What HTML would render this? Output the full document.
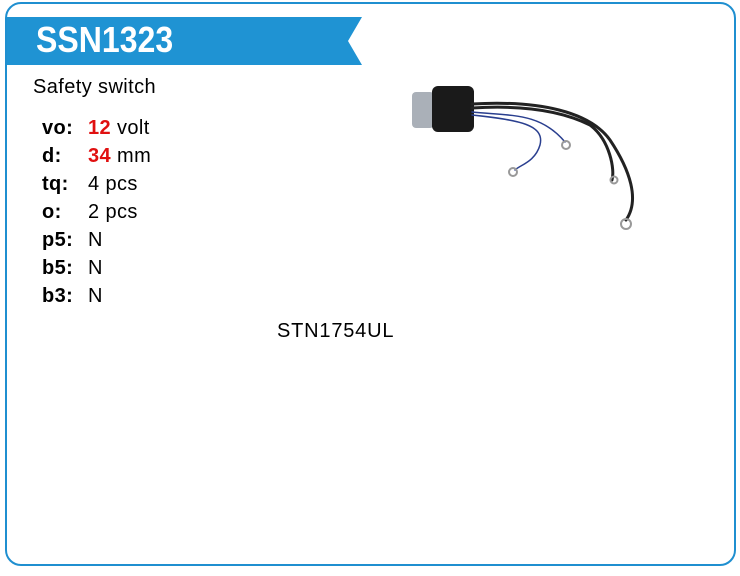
<!DOCTYPE html>
<html><head><style>
body{margin:0;width:740px;height:576px;background:#fff;font-family:"Liberation Sans",Arial,sans-serif;position:relative;overflow:hidden}
.frame{position:absolute;left:5px;top:2px;width:727px;height:560px;border:2px solid #1f8fd0;border-radius:16px}
.t{position:absolute;font-size:20px;color:#000;line-height:22px;letter-spacing:0.4px}
.b{font-weight:bold}
.r{color:#e01010;font-weight:bold}
</style></head><body>
<div class="frame"></div>
<svg style="position:absolute;left:0;top:0" width="740" height="576">
<polygon points="7,17 362,17 348,41 362,65 7,65" fill="#1f93d3"/>
<rect x="412" y="92" width="22" height="36" rx="4" fill="#aab0b8"/>
<rect x="432" y="86" width="42" height="46" rx="6" fill="#1a1a1a"/>
<g fill="none" stroke-linecap="round">
<path d="M472,108 C520,105 560,110 590,125 C610,140 615,170 612,180" stroke="#222" stroke-width="3"/>
<path d="M472,104 C540,100 590,112 610,140 C630,170 640,200 626,220" stroke="#222" stroke-width="3"/>
<path d="M472,112 C510,116 540,112 565,142" stroke="#2a3f8f" stroke-width="1.5"/>
<path d="M472,115 C520,120 545,125 540,145 C535,162 520,165 515,170" stroke="#2a3f8f" stroke-width="1.5"/>
</g>
<g fill="none" stroke="#999" stroke-width="2">
<circle cx="566" cy="145" r="4"/><circle cx="513" cy="172" r="4"/>
<circle cx="614" cy="180" r="3.5"/><circle cx="626" cy="224" r="5"/>
</g>
</svg>
<div class="t b" style="left:36px;top:20px;font-size:36px;line-height:40px;color:#fff;letter-spacing:0;transform:scaleX(0.89);transform-origin:0 0">SSN1323</div>
<div class="t" style="left:33px;top:76px">Safety switch</div>
<div class="t b" style="left:42px;top:117px">vo:</div><div class="t" style="left:88px;top:117px"><span class="r">12</span> volt</div>
<div class="t b" style="left:42px;top:145px">d:</div><div class="t" style="left:88px;top:145px"><span class="r">34</span> mm</div>
<div class="t b" style="left:42px;top:173px">tq:</div><div class="t" style="left:88px;top:173px">4 pcs</div>
<div class="t b" style="left:42px;top:201px">o:</div><div class="t" style="left:88px;top:201px">2 pcs</div>
<div class="t b" style="left:42px;top:229px">p5:</div><div class="t" style="left:88px;top:229px">N</div>
<div class="t b" style="left:42px;top:257px">b5:</div><div class="t" style="left:88px;top:257px">N</div>
<div class="t b" style="left:42px;top:285px">b3:</div><div class="t" style="left:88px;top:285px">N</div>
<div class="t" style="left:277px;top:320px;letter-spacing:0.8px">STN1754UL</div>
</body></html>
